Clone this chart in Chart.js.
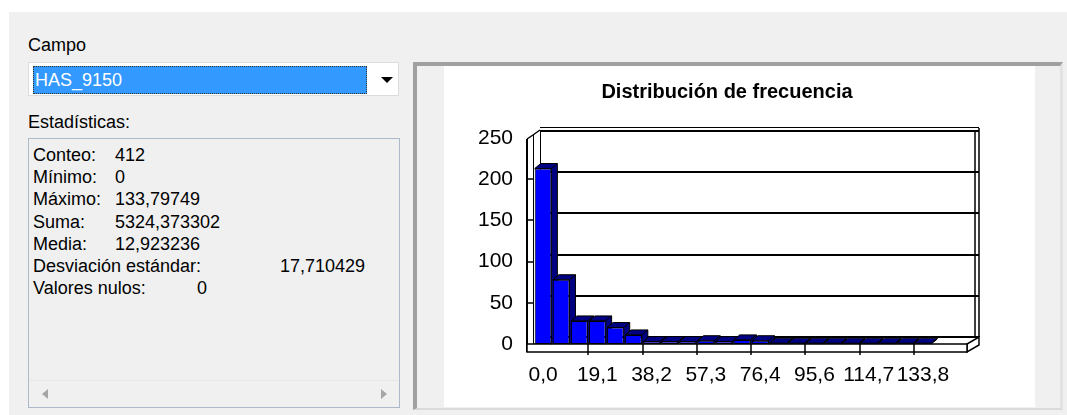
<!DOCTYPE html>
<html lang="es">
<head>
<meta charset="utf-8">
<title>Distribución de frecuencia</title>
<script src="https://cdn.jsdelivr.net/npm/chart.js@4.4.1/dist/chart.umd.min.js"></script>
<style>
  html, body { margin: 0; padding: 0; }
  body {
    width: 1067px; height: 415px; overflow: hidden; position: relative;
    background: #f0f0f0; font-family: "Liberation Sans", Arial, sans-serif; color: #000;
  }
  .abs { position: absolute; }
  #bandaTop { left: 0; top: 0; width: 1067px; height: 12px; background: #fff; }
  #bandaIzq { left: 0; top: 0; width: 9px; height: 415px; background: #fff; }
  .lbl { font-size: 18px; line-height: 22px; white-space: nowrap; }
  #combo { left: 28px; top: 62px; width: 371px; height: 34px; background: #fff; border: 1px solid #dcdcdc; box-sizing: border-box; }
  #seleccion { left: 33px; top: 66px; width: 334px; height: 28px; background: #3399ff; border: 1px dotted #333; box-sizing: border-box; }
  #seleccion span { position: absolute; left: 1px; top: 2px; color: #fff; font-size: 18px; line-height: 22px; }
  #flecha { left: 381px; top: 77px; width: 0; height: 0; border-left: 6px solid transparent; border-right: 6px solid transparent; border-top: 6px solid #000; }
  #caja { left: 28px; top: 138px; width: 372px; height: 270px; background: #f0f0f0; border: 1px solid #abb9c9; box-sizing: border-box; }
  #stats { left: 33px; top: 144px; font-size: 18px; line-height: 22.2px; }
  #stats div { position: relative; height: 22.2px; white-space: nowrap; }
  #stats span { position: absolute; top: 0; }
  #scroll { left: 30px; top: 380px; width: 368px; height: 26px; background: #f0f0f0; border-top: 1px solid #e6e6e6; }
  .flechaIzq { left: 42px; top: 389px; width: 0; height: 0; border-top: 5px solid transparent; border-bottom: 5px solid transparent; border-right: 6px solid #a6a6a6; }
  .flechaDer { left: 381px; top: 389px; width: 0; height: 0; border-top: 5px solid transparent; border-bottom: 5px solid transparent; border-left: 6px solid #a6a6a6; }
  #panel { left: 413px; top: 62px; width: 650px; height: 348px; box-sizing: border-box; background: #f0f0f0;
    border-top: 4px solid #a0a0a0; border-left: 4px solid #a0a0a0; border-right: 3px solid #e3e3e3; border-bottom: 2px solid #dadada; }
  #blanco { left: 444px; top: 66px; width: 591px; height: 341px; background: #fff; }
  #grafico { position: absolute; left: 444px; top: 67px; }
</style>
</head>
<body>
<div class="abs" id="bandaTop"></div>
<div class="abs" id="bandaIzq"></div>

<div class="abs lbl" style="left:28px; top:34px;">Campo</div>
<div class="abs" id="combo"></div>
<div class="abs" id="seleccion"><span>HAS_9150</span></div>
<div class="abs" id="flecha"></div>

<div class="abs lbl" style="left:28px; top:111px;">Estadísticas:</div>
<div class="abs" id="caja"></div>
<div class="abs" id="stats"></div>
<div class="abs" id="scroll"></div>
<div class="abs flechaIzq"></div>
<div class="abs flechaDer"></div>

<div class="abs" id="panel"></div>
<div class="abs" id="blanco"></div>
<canvas id="grafico" width="566" height="340"></canvas>

<script>
const etiquetasClases = ['0,0', '6,4', '12,7', '19,1', '25,5', '31,9', '38,2', '44,6', '51,0', '57,3', '63,7',
  '70,1', '76,4', '82,8', '89,2', '95,6', '101,9', '108,3', '114,7', '121,0', '127,4', '133,8'];
const frecuencias = [213, 78, 28, 28, 20, 11, 3, 3, 3, 4, 3, 5, 4, 1, 1, 1, 1, 1, 1, 1, 1, 1];
const etiquetasVisibles = ['0,0', '19,1', '38,2', '57,3', '76,4', '95,6', '114,7', '133,8'];
const ticksY = [0, 50, 100, 150, 200, 250];

// Estadísticas del campo
const nombresStats = ['Conteo:', 'Mínimo:', 'Máximo:', 'Suma:', 'Media:', 'Desviación estándar:', 'Valores nulos:'];
const valoresStats = ['412', '0', '133,79749', '5324,373302', '12,923236', '17,710429', '0'];
const columnaStats = [82, 82, 82, 82, 82, 247, 164];

const statsDiv = document.getElementById('stats');
nombresStats.forEach((nombre, i) => {
    const fila = document.createElement('div');
    fila.innerHTML = '<span style="left:0">' + nombre + '</span><span style="left:' + columnaStats[i] + 'px">' + valoresStats[i] + '</span>';
    statsDiv.appendChild(fila);
});

// Profundidad del efecto 3D
const PROF_MARCO = { dx: 13, dy: -7 };
const PROF_BARRA = { dx: 6, dy: -5 };

const marco3D = {
    id: 'marco3D',
    beforeDatasetsDraw(chart) {
        const { ctx, chartArea: ca, scales } = chart;
        const x = scales.x, y = scales.y;
        const top = y.getPixelForValue(250);
        const base = y.getPixelForValue(0);
        const fl = ca.left - 7;
        const fr = ca.right + 35;
        const bl = fl + PROF_MARCO.dx;
        const br = fr + PROF_MARCO.dx - 1;
        const dy = PROF_MARCO.dy;

        ctx.save();
        ctx.strokeStyle = '#000';

        // piso (cara superior)
        ctx.fillStyle = '#fff';
        ctx.beginPath();
        ctx.moveTo(fl, base); ctx.lineTo(bl, base + dy); ctx.lineTo(br, base + dy); ctx.lineTo(fr, base);
        ctx.closePath(); ctx.fill();

        // pared del fondo: líneas de la cuadrícula
        ctx.lineWidth = 2;
        ticksY.forEach(v => {
            const py = Math.round(y.getPixelForValue(v) + dy);
            ctx.beginPath(); ctx.moveTo(bl, py); ctx.lineTo(br, py); ctx.stroke();
        });
        ctx.lineWidth = 1;
        ctx.beginPath(); ctx.moveTo(bl, Math.round(top + dy) - 3.5); ctx.lineTo(br, Math.round(top + dy) - 3.5); ctx.stroke();

        // borde derecho de la pared
        ctx.lineWidth = 1.5;
        ctx.beginPath();
        ctx.moveTo(br, top + dy - 3); ctx.lineTo(br, base + dy);
        ctx.moveTo(br - 4, top + dy); ctx.lineTo(br - 4, base + dy);
        ctx.stroke();

        // pared izquierda
        ctx.beginPath();
        ctx.moveTo(fl, top + 1); ctx.lineTo(fl + 6, top - 3); ctx.lineTo(bl, top + dy - 1);
        ctx.stroke();
        ctx.lineWidth = 2;
        ctx.beginPath(); ctx.moveTo(fl, top + 1); ctx.lineTo(fl, base + 8); ctx.stroke();
        ctx.lineWidth = 1;
        ctx.beginPath();
        ctx.moveTo(fl + 6.5, top - 3); ctx.lineTo(fl + 6.5, base);
        ctx.moveTo(bl + 0.5, top + dy); ctx.lineTo(bl + 0.5, base + dy);
        ctx.stroke();
        ctx.lineWidth = 1.5;
        ticksY.slice(1, -1).forEach(v => {
            const py = Math.round(y.getPixelForValue(v));
            ctx.beginPath(); ctx.moveTo(fl, py); ctx.lineTo(fl + 6, py); ctx.stroke();
        });

        // losa del piso: frente y extremo derecho
        ctx.fillStyle = '#fff';
        ctx.lineWidth = 1.5;
        ctx.beginPath();
        ctx.moveTo(fr, base); ctx.lineTo(br, base + dy); ctx.lineTo(br, base + dy + 8); ctx.lineTo(fr, base + 8);
        ctx.closePath(); ctx.fill(); ctx.stroke();
        ctx.fillRect(fl, base, fr - fl, 8);
        ctx.strokeRect(fl, base, fr - fl, 8);

        // marcas del eje X cada tres clases
        const anchoClase = (ca.right - ca.left) / etiquetasClases.length;
        ctx.lineWidth = 1.5;
        etiquetasClases.forEach((lbl, i) => {
            if (i === 0 || !etiquetasVisibles.includes(lbl)) return;
            const px = Math.round(x.getPixelForValue(i) - anchoClase / 2);
            ctx.beginPath(); ctx.moveTo(px, base); ctx.lineTo(px, base + 11); ctx.stroke();
        });

        // caras laterales y superiores de las barras
        const meta = chart.getDatasetMeta(0);
        ctx.lineWidth = 1;
        ctx.fillStyle = '#000080';
        meta.data.forEach(el => {
            const p = el.getProps(['x', 'y', 'base', 'width'], true);
            const l = p.x - p.width / 2, r = p.x + p.width / 2;
            const t = Math.min(p.y, p.base), b = Math.max(p.y, p.base);
            ctx.beginPath();
            ctx.moveTo(l, t); ctx.lineTo(l + PROF_BARRA.dx, t + PROF_BARRA.dy);
            ctx.lineTo(r + PROF_BARRA.dx, t + PROF_BARRA.dy); ctx.lineTo(r + PROF_BARRA.dx, b + PROF_BARRA.dy);
            ctx.lineTo(r, b); ctx.lineTo(r, t);
            ctx.closePath(); ctx.fill(); ctx.stroke();
            ctx.beginPath(); ctx.moveTo(r, t); ctx.lineTo(r + PROF_BARRA.dx, t + PROF_BARRA.dy); ctx.stroke();
        });
        ctx.restore();
    }
};

Chart.defaults.font.family = '"Liberation Sans", Arial, sans-serif';
Chart.defaults.color = '#000';

const ctx = document.getElementById('grafico').getContext('2d');
new Chart(ctx, {
    type: 'bar',
    data: {
        labels: etiquetasClases,
        datasets: [{
            label: 'Frecuencia',
            data: frecuencias,
            backgroundColor: '#0000ff',
            borderColor: '#000',
            borderWidth: 1,
            borderSkipped: false,
            categoryPercentage: 1,
            barPercentage: 0.92,
        }],
    },
    options: {
        responsive: false,
        animation: false,
        devicePixelRatio: 1,
        layout: { padding: 0 },
        plugins: {
            legend: { display: false },
            tooltip: { enabled: false },
            title: {
                display: true,
                text: 'Distribución de frecuencia',
                color: '#000',
                font: { size: 20, weight: 'bold' },
                padding: { top: 13, bottom: 34 },
            },
        },
        scales: {
            x: {
                grid: { display: false, drawTicks: false },
                border: { display: false },
                ticks: {
                    autoSkip: false,
                    maxRotation: 0,
                    padding: 19,
                    font: { size: 21 },
                    callback: function (value) {
                        const lbl = this.getLabelForValue(value);
                        return etiquetasVisibles.includes(lbl) ? lbl : '';
                    },
                },
                afterFit: (scale) => { scale.height = 63; },
            },
            y: {
                min: 0,
                max: 250,
                grid: { display: false, drawTicks: false },
                border: { display: false },
                ticks: { padding: 21, font: { size: 21 } },
                afterBuildTicks: (scale) => { scale.ticks = ticksY.map(v => ({ value: v })); },
                afterFit: (scale) => { scale.width = 90; },
            },
            y2: {
                position: 'right',
                grid: { display: false },
                border: { display: false },
                ticks: { display: false },
                afterFit: (scale) => { scale.width = 78; },
            },
        },
    },
    plugins: [marco3D],
});
</script>
</body>
</html>
